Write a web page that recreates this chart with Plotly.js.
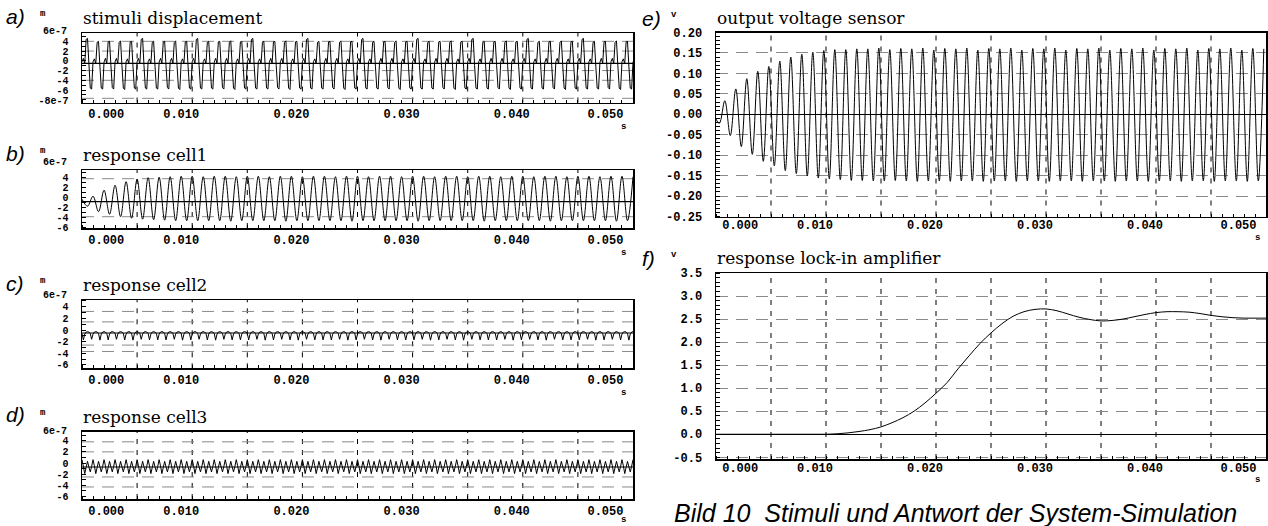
<!DOCTYPE html>
<html><head><meta charset="utf-8">
<script src="https://cdn.plot.ly/plotly-3.0.1.min.js"></script>
<style>html,body{margin:0;padding:0;background:#fff}#chart{width:1268px;height:526px}</style>
</head><body><div id="chart"></div>
<script>
// ---------------- DATA ----------------
// time axis of every panel: 0 ... 0.05 s
const timeTickText = ['0.000','0.010','0.020','0.030','0.040','0.050'];
const timeTickPos  = [0.0032, 0.010, 0.020, 0.030, 0.040, 0.0485];

// a) stimuli displacement [1e-7 m], sampled every 0.125 ms from t = 0
const stimuli = [
-0.2,0.5,-0.6,4.4,4.6,-1.0,-5.6,-5.8,-0.2,0.4,-0.6,3.8,4.0,-1.1,-5.6,-5.8,-0.3,0.5,-0.5,3.9,4.0,-1.0,-5.5,-5.8,-0.2,0.5,-0.6,3.8,4.1,-1.0,-5.6,-5.9,-0.2,0.4,-0.6,3.9,4.0,-1.1,-5.6,-5.8,
-0.2,0.5,-0.6,4.4,4.6,-1.0,-5.6,-5.8,-0.2,0.4,-0.6,3.8,4.0,-1.1,-5.6,-5.8,-0.3,0.5,-0.5,3.9,4.0,-1.0,-5.5,-5.8,-0.2,0.5,-0.6,3.8,4.1,-1.0,-5.6,-5.9,-0.2,0.4,-0.6,3.9,4.0,-1.1,-5.6,-5.8,
-0.2,0.5,-0.6,4.4,4.6,-1.0,-5.6,-5.8,-0.2,0.4,-0.6,3.8,4.0,-1.1,-5.6,-5.8,-0.3,0.5,-0.5,3.9,4.0,-1.0,-5.5,-5.8,-0.2,0.5,-0.6,3.8,4.1,-1.0,-5.6,-5.9,-0.2,0.4,-0.6,3.9,4.0,-1.1,-5.6,-5.8,
-0.2,0.5,-0.6,4.4,4.6,-1.0,-5.6,-5.8,-0.2,0.4,-0.6,3.8,4.0,-1.1,-5.6,-5.8,-0.3,0.5,-0.5,3.9,4.0,-1.0,-5.5,-5.8,-0.2,0.5,-0.6,3.8,4.1,-1.0,-5.6,-5.9,-0.2,0.4,-0.6,3.9,4.0,-1.1,-5.6,-5.8,
-0.2,0.5,-0.6,4.4,4.6,-1.0,-5.6,-5.8,-0.2,0.4,-0.6,3.8,4.0,-1.1,-5.6,-5.8,-0.3,0.5,-0.5,3.9,4.0,-1.0,-5.5,-5.8,-0.2,0.5,-0.6,3.8,4.1,-1.0,-5.6,-5.9,-0.2,0.4,-0.6,3.9,4.0,-1.1,-5.6,-5.8,
-0.2,0.5,-0.6,4.4,4.6,-1.0,-5.6,-5.8,-0.2,0.4,-0.6,3.8,4.0,-1.1,-5.6,-5.8,-0.3,0.5,-0.5,3.9,4.0,-1.0,-5.5,-5.8,-0.2,0.5,-0.6,3.8,4.1,-1.0,-5.6,-5.9,-0.2,0.4,-0.6,3.9,4.0,-1.1,-5.6,-5.8,
-0.2,0.5,-0.6,4.4,4.6,-1.0,-5.6,-5.8,-0.2,0.4,-0.6,3.8,4.0,-1.1,-5.6,-5.8,-0.3,0.5,-0.5,3.9,4.0,-1.0,-5.5,-5.8,-0.2,0.5,-0.6,3.8,4.1,-1.0,-5.6,-5.9,-0.2,0.4,-0.6,3.9,4.0,-1.1,-5.6,-5.8,
-0.2,0.5,-0.6,4.4,4.6,-1.0,-5.6,-5.8,-0.2,0.4,-0.6,3.8,4.0,-1.1,-5.6,-5.8,-0.3,0.5,-0.5,3.9,4.0,-1.0,-5.5,-5.8,-0.2,0.5,-0.6,3.8,4.1,-1.0,-5.6,-5.9,-0.2,0.4,-0.6,3.9,4.0,-1.1,-5.6,-5.8,
-0.2,0.5,-0.6,4.4,4.6,-1.0,-5.6,-5.8,-0.2,0.4,-0.6,3.8,4.0,-1.1,-5.6,-5.8,-0.3,0.5,-0.5,3.9,4.0,-1.0,-5.5,-5.8,-0.2,0.5,-0.6,3.8,4.1,-1.0,-5.6,-5.9,-0.2,0.4,-0.6,3.9,4.0,-1.1,-5.6,-5.8,
-0.2,0.5,-0.6,4.4,4.6,-1.0,-5.6,-5.8,-0.2,0.4,-0.6,3.8,4.0,-1.1,-5.6,-5.8,-0.3,0.5,-0.5,3.9,4.0,-1.0,-5.5,-5.8,-0.2,0.5,-0.6,3.8,4.1,-1.0,-5.6,-5.9,-0.2,0.4,-0.6,3.9,4.0,-1.1,-5.6,-5.8,
-0.2];

// b) response cell1 [1e-7 m], extrema every 0.5 ms from t = 0
const cell1 = [
-0.3,-1.7,0.3,-2.8,1.5,-3.3,2.5,-3.8,3.2,-4.1,3.7,-4.3,4.0,-4.4,4.1,-4.5,4.2,-4.6,4.3,-4.6,
4.3,-4.6,4.2,-4.6,4.3,-4.6,4.3,-4.7,4.2,-4.6,4.3,-4.6,4.3,-4.6,4.2,-4.6,4.3,-4.7,4.3,-4.6,
4.2,-4.6,4.3,-4.6,4.3,-4.6,4.2,-4.6,4.3,-4.7,4.3,-4.6,4.2,-4.6,4.3,-4.6,4.3,-4.6,4.2,-4.6,
4.3,-4.7,4.3,-4.6,4.2,-4.6,4.3,-4.6,4.3,-4.6,4.2,-4.6,4.3,-4.7,4.3,-4.6,4.2,-4.6,4.3,-4.6,
4.3,-4.6,4.2,-4.6,4.3,-4.7,4.3,-4.6,4.2,-4.6,4.3,-4.6,4.3,-4.6,4.2,-4.6,4.3,-4.7,4.3,-4.6,
4.2];

// c) response cell2 [1e-7 m], sampled every 0.125 ms from t = 0
const cell2 = [
-0.6,-1.7,-0.7,-0.35,-0.28,-0.35,-0.6,-1.6,-0.7,-0.35,-0.28,-0.35,-0.6,-1.75,-0.7,-0.35,-0.28,-0.35,-0.6,-1.7,-0.7,-0.35,-0.28,-0.35,-0.6,-1.6,-0.7,-0.35,-0.28,-0.35,
-0.6,-1.7,-0.7,-0.35,-0.28,-0.35,-0.6,-1.75,-0.7,-0.35,-0.28,-0.35,-0.6,-1.6,-0.7,-0.35,-0.28,-0.35,-0.6,-1.7,-0.7,-0.35,-0.28,-0.35,-0.6,-1.7,-0.7,-0.35,-0.28,-0.35,
-0.6,-1.7,-0.7,-0.35,-0.28,-0.35,-0.6,-1.6,-0.7,-0.35,-0.28,-0.35,-0.6,-1.75,-0.7,-0.35,-0.28,-0.35,-0.6,-1.7,-0.7,-0.35,-0.28,-0.35,-0.6,-1.6,-0.7,-0.35,-0.28,-0.35,
-0.6,-1.7,-0.7,-0.35,-0.28,-0.35,-0.6,-1.75,-0.7,-0.35,-0.28,-0.35,-0.6,-1.6,-0.7,-0.35,-0.28,-0.35,-0.6,-1.7,-0.7,-0.35,-0.28,-0.35,-0.6,-1.7,-0.7,-0.35,-0.28,-0.35,
-0.6,-1.7,-0.7,-0.35,-0.28,-0.35,-0.6,-1.6,-0.7,-0.35,-0.28,-0.35,-0.6,-1.75,-0.7,-0.35,-0.28,-0.35,-0.6,-1.7,-0.7,-0.35,-0.28,-0.35,-0.6,-1.6,-0.7,-0.35,-0.28,-0.35,
-0.6,-1.7,-0.7,-0.35,-0.28,-0.35,-0.6,-1.75,-0.7,-0.35,-0.28,-0.35,-0.6,-1.6,-0.7,-0.35,-0.28,-0.35,-0.6,-1.7,-0.7,-0.35,-0.28,-0.35,-0.6,-1.7,-0.7,-0.35,-0.28,-0.35,
-0.6,-1.7,-0.7,-0.35,-0.28,-0.35,-0.6,-1.6,-0.7,-0.35,-0.28,-0.35,-0.6,-1.75,-0.7,-0.35,-0.28,-0.35,-0.6,-1.7,-0.7,-0.35,-0.28,-0.35,-0.6,-1.6,-0.7,-0.35,-0.28,-0.35,
-0.6,-1.7,-0.7,-0.35,-0.28,-0.35,-0.6,-1.75,-0.7,-0.35,-0.28,-0.35,-0.6,-1.6,-0.7,-0.35,-0.28,-0.35,-0.6,-1.7,-0.7,-0.35,-0.28,-0.35,-0.6,-1.7,-0.7,-0.35,-0.28,-0.35,
-0.6,-1.7,-0.7,-0.35,-0.28,-0.35,-0.6,-1.6,-0.7,-0.35,-0.28,-0.35,-0.6,-1.75,-0.7,-0.35,-0.28,-0.35,-0.6,-1.7,-0.7,-0.35,-0.28,-0.35,-0.6,-1.6,-0.7,-0.35,-0.28,-0.35,
-0.6,-1.7,-0.7,-0.35,-0.28,-0.35,-0.6,-1.75,-0.7,-0.35,-0.28,-0.35,-0.6,-1.6,-0.7,-0.35,-0.28,-0.35,-0.6,-1.7,-0.7,-0.35,-0.28,-0.35,-0.6,-1.7,-0.7,-0.35,-0.28,-0.35,
-0.6,-1.7,-0.7,-0.35,-0.28,-0.35,-0.6,-1.6,-0.7,-0.35,-0.28,-0.35,-0.6,-1.75,-0.7,-0.35,-0.28,-0.35,-0.6,-1.7,-0.7,-0.35,-0.28,-0.35,-0.6,-1.6,-0.7,-0.35,-0.28,-0.35,
-0.6,-1.7,-0.7,-0.35,-0.28,-0.35,-0.6,-1.75,-0.7,-0.35,-0.28,-0.35,-0.6,-1.6,-0.7,-0.35,-0.28,-0.35,-0.6,-1.7,-0.7,-0.35,-0.28,-0.35,-0.6,-1.7,-0.7,-0.35,-0.28,-0.35,
-0.6,-1.7,-0.7,-0.35,-0.28,-0.35,-0.6,-1.6,-0.7,-0.35,-0.28,-0.35,-0.6,-1.75,-0.7,-0.35,-0.28,-0.35,-0.6,-1.7,-0.7,-0.35,-0.28,-0.35,-0.6,-1.6,-0.7,-0.35,-0.28,-0.35,
-0.6,-1.7,-0.7,-0.35,-0.28,-0.35,-0.6,-1.75,-0.7,-0.35,-0.28,-0.35,-0.6,-1.6,-0.7,-0.35,-0.28,-0.35,-0.6,-1.7,-0.7,-0.35,-0.28,-0.35,-0.6,-1.6,-0.7,-0.35,-0.28,
-0.35,-0.6];

// d) response cell3 [1e-7 m], sampled every 0.125 ms from t = 0
const cell3 = [
0.6,-0.5,-1.9,-0.8,0.3,-0.7,-1.6,-0.6,0.6,-0.5,-1.9,-0.8,0.3,-0.7,-1.6,-0.6,0.6,-0.5,-1.9,-0.8,0.3,-0.7,-1.6,-0.6,0.6,-0.5,-1.9,-0.8,0.3,-0.7,-1.6,-0.6,0.6,-0.5,-1.9,-0.8,0.3,-0.7,-1.6,-0.6,
0.6,-0.5,-1.9,-0.8,0.3,-0.7,-1.6,-0.6,0.6,-0.5,-1.9,-0.8,0.3,-0.7,-1.6,-0.6,0.6,-0.5,-1.9,-0.8,0.3,-0.7,-1.6,-0.6,0.6,-0.5,-1.9,-0.8,0.3,-0.7,-1.6,-0.6,0.6,-0.5,-1.9,-0.8,0.3,-0.7,-1.6,-0.6,
0.6,-0.5,-1.9,-0.8,0.3,-0.7,-1.6,-0.6,0.6,-0.5,-1.9,-0.8,0.3,-0.7,-1.6,-0.6,0.6,-0.5,-1.9,-0.8,0.3,-0.7,-1.6,-0.6,0.6,-0.5,-1.9,-0.8,0.3,-0.7,-1.6,-0.6,0.6,-0.5,-1.9,-0.8,0.3,-0.7,-1.6,-0.6,
0.6,-0.5,-1.9,-0.8,0.3,-0.7,-1.6,-0.6,0.6,-0.5,-1.9,-0.8,0.3,-0.7,-1.6,-0.6,0.6,-0.5,-1.9,-0.8,0.3,-0.7,-1.6,-0.6,0.6,-0.5,-1.9,-0.8,0.3,-0.7,-1.6,-0.6,0.6,-0.5,-1.9,-0.8,0.3,-0.7,-1.6,-0.6,
0.6,-0.5,-1.9,-0.8,0.3,-0.7,-1.6,-0.6,0.6,-0.5,-1.9,-0.8,0.3,-0.7,-1.6,-0.6,0.6,-0.5,-1.9,-0.8,0.3,-0.7,-1.6,-0.6,0.6,-0.5,-1.9,-0.8,0.3,-0.7,-1.6,-0.6,0.6,-0.5,-1.9,-0.8,0.3,-0.7,-1.6,-0.6,
0.6,-0.5,-1.9,-0.8,0.3,-0.7,-1.6,-0.6,0.6,-0.5,-1.9,-0.8,0.3,-0.7,-1.6,-0.6,0.6,-0.5,-1.9,-0.8,0.3,-0.7,-1.6,-0.6,0.6,-0.5,-1.9,-0.8,0.3,-0.7,-1.6,-0.6,0.6,-0.5,-1.9,-0.8,0.3,-0.7,-1.6,-0.6,
0.6,-0.5,-1.9,-0.8,0.3,-0.7,-1.6,-0.6,0.6,-0.5,-1.9,-0.8,0.3,-0.7,-1.6,-0.6,0.6,-0.5,-1.9,-0.8,0.3,-0.7,-1.6,-0.6,0.6,-0.5,-1.9,-0.8,0.3,-0.7,-1.6,-0.6,0.6,-0.5,-1.9,-0.8,0.3,-0.7,-1.6,-0.6,
0.6,-0.5,-1.9,-0.8,0.3,-0.7,-1.6,-0.6,0.6,-0.5,-1.9,-0.8,0.3,-0.7,-1.6,-0.6,0.6,-0.5,-1.9,-0.8,0.3,-0.7,-1.6,-0.6,0.6,-0.5,-1.9,-0.8,0.3,-0.7,-1.6,-0.6,0.6,-0.5,-1.9,-0.8,0.3,-0.7,-1.6,-0.6,
0.6,-0.5,-1.9,-0.8,0.3,-0.7,-1.6,-0.6,0.6,-0.5,-1.9,-0.8,0.3,-0.7,-1.6,-0.6,0.6,-0.5,-1.9,-0.8,0.3,-0.7,-1.6,-0.6,0.6,-0.5,-1.9,-0.8,0.3,-0.7,-1.6,-0.6,0.6,-0.5,-1.9,-0.8,0.3,-0.7,-1.6,-0.6,
0.6,-0.5,-1.9,-0.8,0.3,-0.7,-1.6,-0.6,0.6,-0.5,-1.9,-0.8,0.3,-0.7,-1.6,-0.6,0.6,-0.5,-1.9,-0.8,0.3,-0.7,-1.6,-0.6,0.6,-0.5,-1.9,-0.8,0.3,-0.7,-1.6,-0.6,0.6,-0.5,-1.9,-0.8,0.3,-0.7,-1.6,-0.6,
0.6];

// e) output voltage sensor [V], extrema every 0.5 ms starting at t = -0.2 ms
const sensor = [
0,-0.022,0.033,-0.052,0.062,-0.079,0.087,-0.098,0.105,-0.115,0.117,-0.126,0.130,-0.138,0.140,-0.145,0.147,-0.151,0.152,-0.156,
0.156,-0.158,0.158,-0.160,0.158,-0.162,0.160,-0.162,0.160,-0.163,0.162,-0.163,0.158,-0.162,0.161,-0.163,0.160,-0.164,0.162,-0.163,
0.157,-0.163,0.161,-0.164,0.160,-0.163,0.162,-0.163,0.157,-0.164,0.161,-0.163,0.160,-0.163,0.162,-0.164,0.157,-0.163,0.161,-0.163,
0.160,-0.164,0.162,-0.163,0.157,-0.163,0.161,-0.164,0.160,-0.163,0.162,-0.163,0.157,-0.164,0.161,-0.163,0.160,-0.163,0.162,-0.164,
0.157,-0.163,0.161,-0.163,0.160,-0.164,0.162,-0.163,0.157,-0.163,0.161,-0.164,0.160,-0.163,0.162,-0.163,0.157,-0.164,0.161,-0.163,
0.160];

// f) response lock-in amplifier [V], every 1 ms from t = 0
const lockin = [
0,0,0,0,0,0,0,0,0,0,0,
0.01,0.03,0.06,0.10,0.16,0.25,0.36,0.50,0.68,0.89,1.12,1.42,1.70,1.97,2.20,2.40,2.56,2.66,2.71,2.72,
2.68,2.61,2.54,2.49,2.46,2.47,2.50,2.55,2.60,2.64,2.66,2.66,2.65,2.62,2.58,2.55,2.53,2.52,2.52,2.52];

// tick labels
const mTickText = ['-8e-7','-6','-4','-2','0','2','4'];
const mTickVal  = [-8.19,-6,-4,-2,0,2,4];
const vTickText_e = ['-0.25','-0.20','-0.15','-0.10','-0.05','0.00','0.05','0.10','0.15','0.20'];
const vTickVal_e  = [-0.25,-0.20,-0.15,-0.10,-0.05,0,0.05,0.10,0.15,0.20];
const vTickText_f = ['-0.5','0.0','0.5','1.0','1.5','2.0','2.5','3.0','3.5'];
const vTickVal_f  = [-0.5,0,0.5,1.0,1.5,2.0,2.5,3.0,3.5];

// ---------------- STYLE / LAYOUT ----------------
const W = 1268, H = 526;
const px = x => x / W, py = y => 1 - y / H;
const LEFT = [px(82), px(633)], RIGHT = [px(716), px(1266)];
const MONO = 'Liberation Mono, Courier New, monospace';
const xTickFont = {family: MONO, size: 12, color: '#000', weight: 700};
const yTickFontL = {family: MONO, size: 10, color: '#000', weight: 700};
const yTickFontR = {family: MONO, size: 12, color: '#000', weight: 700};
const unitFont = {family: MONO, size: 9, color: '#000', weight: 700};
const gridTimes = [0.005,0.010,0.015,0.020,0.025,0.030,0.035,0.040,0.045];

const panels = [
  {letter:'a)', title:'stimuli displacement', unit:'m', xd:LEFT, top:33, bot:102.5, yr:[-8.56,5.71], tv:mTickVal, tt:mTickText, minor:1, solid:-0.51, hgrid:[4,2,-2,-4,-7.7], y:stimuli, x0:0, dx:0.000125, spline:false, six:32},
  {letter:'b)', title:'response cell1', unit:'m', xd:LEFT, top:170, bot:228, yr:[-6.06,5.54], tv:mTickVal.slice(1), tt:mTickText.slice(1), minor:1, solid:-0.8, hgrid:[3.8,-3.8], y:cell1, x0:0, dx:0.0005, spline:true, six:163},
  {letter:'c)', title:'response cell2', unit:'m', xd:LEFT, top:300, bot:368.3, yr:[-6.6,5.17], tv:mTickVal.slice(1), tt:mTickText.slice(1), minor:1, solid:-0.52, hgrid:[3.2,1.4,-2.6,-3.7], y:cell2, x0:0, dx:0.000125, spline:false, six:295},
  {letter:'d)', title:'response cell3', unit:'m', xd:LEFT, top:431.7, bot:499, yr:[-6.46,5.62], tv:mTickVal.slice(1), tt:mTickText.slice(1), minor:1, solid:-0.72, hgrid:[3.8,2.0,-2.5,-4.3], y:cell3, x0:0, dx:0.000125, spline:false, six:431.7},
  {letter:'e)', title:'output voltage sensor', unit:'v', xd:RIGHT, top:32.5, bot:216.5, yr:[-0.25,0.2], tv:vTickVal_e, tt:vTickText_e, minor:0.01, y:sensor, x0:-0.0002, dx:0.0005, spline:true},
  {letter:'f)', title:'response lock-in amplifier', unit:'v', xd:RIGHT, top:273, bot:459, yr:[-0.537,3.5], tv:vTickVal_f, tt:vTickText_f, minor:0.1, y:lockin, x0:0, dx:0.001, spline:true}
];

const layout = {
  width: W, height: H, margin: {l:0, r:0, t:0, b:0},
  paper_bgcolor: '#fff', plot_bgcolor: '#fff', showlegend: false,
  font: {family: MONO, size: 12, color: '#000'},
  shapes: [], annotations: []
};
const traces = [];

panels.forEach((p, i) => {
  const k = i + 1;
  const xs = k === 1 ? '' : String(k);
  const left = p.xd === LEFT;
  const ydom = [py(p.bot), py(p.top)];

  traces.push({
    type: 'scatter', mode: 'lines', x0: p.x0, dx: p.dx, y: p.y,
    xaxis: 'x' + xs, yaxis: 'y' + xs,
    line: {color: '#000', width: 1, shape: p.spline ? 'spline' : 'linear', smoothing: 1},
    hoverinfo: 'skip'
  });

  layout['xaxis' + xs] = {
    domain: p.xd, anchor: 'y' + xs, range: [0, 0.05],
    tickmode: 'array', tickvals: timeTickPos, ticktext: timeTickText,
    ticks: '', tickfont: xTickFont, ticklabelshift: -11, ticklabelstandoff: left ? 0 : -3,
    showgrid: false,
    minor: {tickmode: 'linear', tick0: 0, dtick: 0.001, ticks: 'inside', ticklen: 3, tickwidth: 1, tickcolor: '#000', showgrid: false},
    showline: true, linecolor: '#000', linewidth: 1.5, mirror: true, zeroline: false
  };
  const ya = {
    domain: ydom, anchor: 'x' + xs, range: p.yr,
    tickmode: 'array', tickvals: p.tv, ticktext: p.tt,
    ticks: '', tickfont: left ? yTickFontL : yTickFontR,
    minor: {tickmode: 'linear', tick0: 0, dtick: p.minor, ticks: 'inside', ticklen: 4, tickwidth: 1, tickcolor: '#000', showgrid: false},
    showline: true, linecolor: '#000', linewidth: 1.5, mirror: true,
    ticklabelstandoff: 10
  };
  if (left) {
    ya.showgrid = false; ya.zeroline = false;
  } else {
    ya.showgrid = true; ya.gridcolor = '#8a8a8a'; ya.gridwidth = 1; ya.griddash = '12px,8px';
    ya.zeroline = true; ya.zerolinecolor = '#000'; ya.zerolinewidth = 1.2;
    ya.ticklabelshift = 2.5;
  }
  layout['yaxis' + xs] = ya;

  // vertical dashed grid every 5 ms
  gridTimes.forEach(t => layout.shapes.push({type:'line', xref:'x' + xs, yref:'y' + xs + ' domain', x0:t, x1:t, y0:0, y1:1,
    line:{color:'#000', width:1, dash:'5px,6px'}, layer:'below'}));

  if (left) {
    layout.shapes.push({type:'line', xref:'x' + xs + ' domain', yref:'y' + xs, x0:0, x1:1, y0:p.solid, y1:p.solid, line:{color:'#000', width:1.2}, layer:'below'});
    p.hgrid.forEach(v => layout.shapes.push({type:'line', xref:'x' + xs + ' domain', yref:'y' + xs, x0:0, x1:1, y0:v, y1:v, line:{color:'#8a8a8a', width:1, dash:'12px,8px'}, layer:'below'}));
    layout.annotations.push({xref:'paper', yref:'paper', x:px(69), y:py(p.six), xanchor:'right', yanchor:'middle', text:'6e-7', showarrow:false, font:yTickFontL});
  }

  const boxL = left ? 82 : 716;
  layout.annotations.push({xref:'paper', yref:'paper', x:px(left ? 4 : 640), y:py(p.top - (left ? 17 : 14)), xanchor:'left', yanchor:'middle',
    text:p.letter, showarrow:false, font:{family:'Liberation Sans, Arial, sans-serif', size:21, style:'italic', color:'#000'}});
  layout.annotations.push({xref:'paper', yref:'paper', x:px(left ? 43 : 674), y:py(p.top - (left ? 19 : 18)), xanchor:'center', yanchor:'middle',
    text:p.unit, showarrow:false, font:unitFont});
  layout.annotations.push({xref:'paper', yref:'paper', x:px(boxL - 1), y:py(p.top - 15), xanchor:'left', yanchor:'middle',
    text:p.title, showarrow:false, font:{family:'DejaVu Serif, serif', size:17, color:'#000'}});
  layout.annotations.push({xref:'paper', yref:'paper', x:px(left ? 623 : 1257), y:py(Math.min(p.bot + (left ? 25 : 21), 520)), xanchor:'center', yanchor:'middle',
    text:'s', showarrow:false, font:unitFont});
});

layout.annotations.push({xref:'paper', yref:'paper', x:px(672), y:py(513), xanchor:'left', yanchor:'middle',
  text:'Bild 10  Stimuli und Antwort der System-Simulation', showarrow:false,
  font:{family:'Liberation Sans, Arial, sans-serif', size:25, style:'italic', color:'#000'}});

Plotly.newPlot('chart', traces, layout, {staticPlot: true, displayModeBar: false});
</script></body></html>
